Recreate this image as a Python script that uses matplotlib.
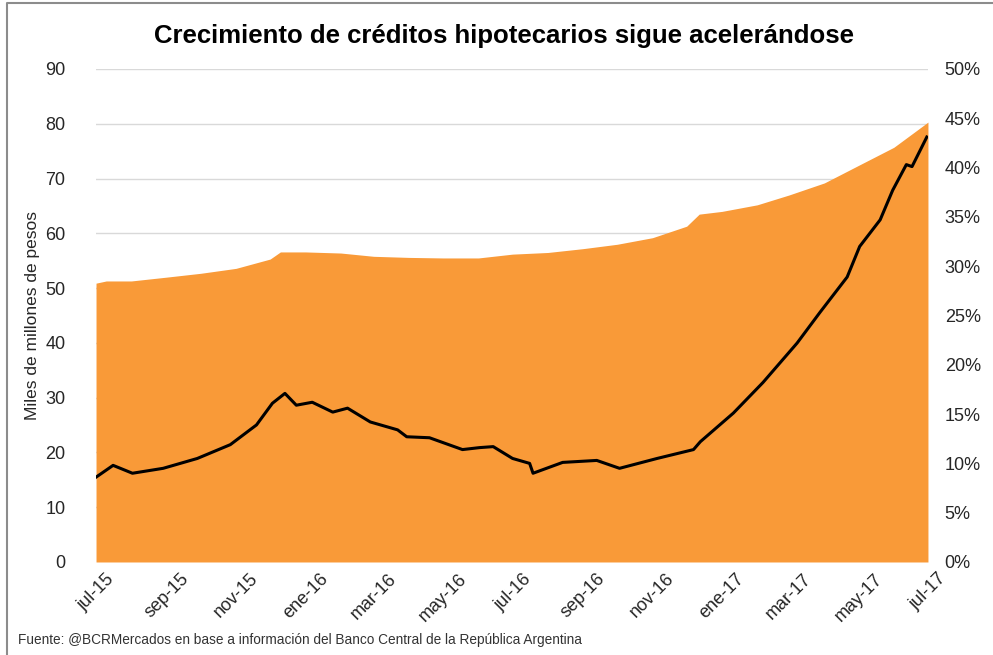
import numpy as np
import pandas as pd
import matplotlib
matplotlib.use("Agg")
import matplotlib.pyplot as plt
from matplotlib.lines import Line2D
from matplotlib.ticker import FuncFormatter

# stock de creditos hipotecarios (miles de millones de pesos)
stock_fechas = ["2015-07-01", "2015-07-10", "2015-08-01", "2015-09-01", "2015-10-01",
                "2015-11-01", "2015-12-01", "2015-12-10", "2016-01-01", "2016-02-01",
                "2016-03-01", "2016-04-01", "2016-05-01", "2016-06-01", "2016-07-01",
                "2016-08-01", "2016-09-01", "2016-10-01", "2016-11-01", "2016-12-01",
                "2016-12-12", "2017-01-01", "2017-02-01", "2017-03-01", "2017-04-01",
                "2017-05-01", "2017-06-01", "2017-07-01"]
stock = [50.9, 51.3, 51.3, 52.0, 52.7,
         53.6, 55.3, 56.6, 56.6, 56.4,
         55.8, 55.6, 55.5, 55.5, 56.2,
         56.5, 57.2, 58.0, 59.2, 61.3,
         63.5, 64.0, 65.2, 67.0, 69.2,
         72.4, 75.7, 80.3]

# variacion interanual (%)
var_fechas = ["2015-07-01", "2015-07-16", "2015-08-02", "2015-08-29", "2015-09-28",
              "2015-10-27", "2015-11-19", "2015-12-03", "2015-12-14", "2015-12-24",
              "2016-01-07", "2016-01-25", "2016-02-07", "2016-02-27", "2016-03-22",
              "2016-03-30", "2016-04-19", "2016-05-18", "2016-06-02", "2016-06-14",
              "2016-07-01", "2016-07-16", "2016-07-19", "2016-08-14", "2016-09-13",
              "2016-10-03", "2016-11-05", "2016-12-07", "2016-12-13", "2017-01-11",
              "2017-02-06", "2017-03-08", "2017-03-28", "2017-04-21", "2017-05-02",
              "2017-05-20", "2017-05-31", "2017-06-12", "2017-06-17", "2017-06-30"]
variacion = [8.6, 9.8, 9.0, 9.5, 10.5,
             11.9, 13.9, 16.1, 17.1, 15.9,
             16.2, 15.2, 15.6, 14.2, 13.4,
             12.7, 12.6, 11.4, 11.6, 11.7,
             10.5, 10.0, 9.0, 10.1, 10.3,
             9.5, 10.5, 11.4, 12.2, 15.1,
             18.2, 22.2, 25.3, 28.9, 32.0,
             34.7, 37.7, 40.3, 40.1, 43.1]

meses = ["jul-15", "sep-15", "nov-15", "ene-16", "mar-16", "may-16", "jul-16",
         "sep-16", "nov-16", "ene-17", "mar-17", "may-17", "jul-17"]
meses_fechas = ["2015-07-01", "2015-09-01", "2015-11-01", "2016-01-01", "2016-03-01",
                "2016-05-01", "2016-07-01", "2016-09-01", "2016-11-01", "2017-01-01",
                "2017-03-01", "2017-05-01", "2017-07-01"]

f_stock = pd.to_datetime(stock_fechas)
f_var = pd.to_datetime(var_fechas)
f_meses = pd.to_datetime(meses_fechas)

naranja = "#F99A38"
fuente = "Liberation Sans"
gris_texto = "#262626"

fig = plt.figure(figsize=(9.93, 6.55), dpi=100)
ax = fig.add_axes([0.0967, 0.142, 0.8378, 0.7527])
ax2 = ax.twinx()

ax.set_zorder(1)
ax2.set_zorder(2)
ax.patch.set_visible(False)

ax.fill_between(f_stock, stock, 0, color=naranja, lw=0, zorder=2)
for v in range(10, 100, 10):
    ax.axhline(v, color="#d9d9d9", lw=1, zorder=1)

ax2.plot(f_var, variacion, color="black", lw=2.2)

ax.set_xlim(f_meses[0], f_meses[-1])
ax.set_ylim(0, 90)
ax2.set_ylim(0, 50)
ax.set_yticks(range(0, 100, 10))
ax2.set_yticks(range(0, 55, 5))
ax2.yaxis.set_major_formatter(FuncFormatter(lambda v, p: "%d%%" % v))

ax.set_xticks(f_meses)
ax.set_xticklabels(meses, rotation=45, ha="center", va="top")

for a in (ax, ax2):
    for s in a.spines.values():
        s.set_visible(False)
    a.tick_params(length=0, labelsize=13, colors=gris_texto)
ax.tick_params(axis="x", pad=6)
ax.tick_params(axis="y", pad=22)
ax2.tick_params(axis="y", pad=12)
for lab in ax.get_xticklabels() + ax.get_yticklabels() + ax2.get_yticklabels():
    lab.set_fontfamily(fuente)

ax.set_ylabel("Miles de millones de pesos", fontsize=12.5, family=fuente,
              color=gris_texto, labelpad=4)

fig.text(0.508, 0.945, "Crecimiento de créditos hipotecarios sigue acelerándose",
         ha="center", va="center", fontsize=18.5, fontweight="bold", family=fuente)
fig.text(0.018, 0.012, "Fuente: @BCRMercados en base a información del Banco Central de la República Argentina",
         ha="left", va="bottom", fontsize=9.8, family=fuente, color="#333333")

# marco (solo visible arriba y a la izquierda)
fig.lines.append(Line2D([0.007, 0.007, 1.0], [0.0, 0.996, 0.996], transform=fig.transFigure,
                        color="#8c8c8c", lw=1.5))

fig.savefig("out.png", dpi=100)
